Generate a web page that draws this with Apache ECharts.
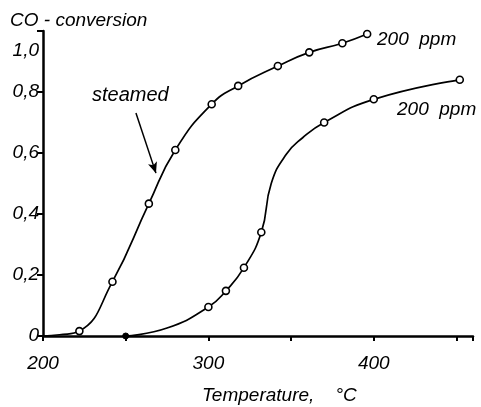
<!DOCTYPE html>
<html>
<head>
<meta charset="utf-8">
<script src="https://cdn.jsdelivr.net/npm/echarts@6/dist/echarts.min.js"></script>
<style>html,body{margin:0;padding:0;background:#fff}#c{width:481px;height:407px}</style>
</head>
<body>
<div id="c"></div>
<script>
// Upper curve ("steamed", 200 ppm): marked points
const steamedMarked = [[222,0.016],[242,0.178],[264,0.434],[280,0.61],[302,0.76],[318,0.82],[342,0.885],[361,0.93],[381,0.96],[396,0.99]];
// extra unmarked points along the hand-drawn curve
const steamedGuide = [[200,0],[210,0.004]];
// Lower curve (200 ppm)
const lowerMarked = [[300,0.095],[310.6,0.148],[321.5,0.224],[332,0.34],[370,0.70],[400,0.776],[452,0.84]];
const lowerFilled = [[250,0]];
const lowerGuide = [[275,0.026],[338,0.50],[347,0.595],[357,0.65]];
// arrow pointing to the steamed curve (data coords)
const arrowFrom = [256.2,0.731];
const arrowTo = [268.3,0.534];
const xTickLabels = [200,300,400];
const yTickLabels = [0,0.2,0.4,0.6,0.8,1.0];

const FONT = 'Liberation Sans';
const byX = (a,b)=>a[0]-b[0];
const steamedLine = steamedGuide.concat(steamedMarked).sort(byX);
const lowerLine = lowerFilled.concat(lowerGuide, lowerMarked).sort(byX);

const chart = echarts.init(document.getElementById('c'), null, {renderer:'canvas'});
const txt = {fontFamily: FONT, fontStyle: 'italic', fontSize: 19, fill: '#000'};
chart.setOption({
  backgroundColor: '#fff',
  animation: false,
  grid: {left: 43, right: 8, top: 31, bottom: 71, containLabel: false},
  xAxis: {
    type: 'value', min: 200, max: 460, interval: 50,
    axisLine: {show: true, onZero: false, lineStyle: {color: '#000', width: 2.5}},
    axisTick: {show: true, length: 5, inside: false, lineStyle: {color: '#000', width: 2}},
    splitLine: {show: false},
    axisLabel: {
      margin: 18, fontFamily: FONT, fontStyle: 'italic', fontSize: 19, color: '#000',
      formatter: v => xTickLabels.indexOf(v) >= 0 ? String(v) : ''
    }
  },
  yAxis: {
    type: 'value', min: 0, max: 1.0, interval: 0.2,
    axisLine: {show: true, lineStyle: {color: '#000', width: 2.5}},
    axisTick: {show: true, length: 6, lineStyle: {color: '#000', width: 2}},
    splitLine: {show: false},
    axisLabel: {
      margin: 4, fontFamily: FONT, fontStyle: 'italic', fontSize: 19, color: '#000',
      formatter: v => {
        const m = yTickLabels.find(t => Math.abs(t - v) < 1e-6);
        if (m === undefined) return '';
        const s = m === 0 ? '0' : m.toFixed(1).replace('.', ',');
        return Math.abs(m - 1) < 1e-6 ? '{b|' + s + '}' : s;
      },
      rich: {b: {fontFamily: FONT, fontStyle: 'italic', fontSize: 19, color: '#000', padding: [40,0,0,0]}}
    }
  },
  series: [
    {type: 'line', data: steamedLine, smooth: 0.5, showSymbol: false, symbol: 'none',
     lineStyle: {color: '#000', width: 1.7}, z: 2,
     markLine: {silent: true, symbol: ['none', 'arrow'], symbolSize: [7, 11], label: {show: false},
       lineStyle: {color: '#000', width: 1.5, type: 'solid'},
       data: [[{coord: arrowFrom}, {coord: arrowTo}]]}},
    {type: 'line', data: lowerLine, smooth: 0.5, showSymbol: false, symbol: 'none',
     lineStyle: {color: '#000', width: 1.7}, z: 2},
    {type: 'scatter', data: steamedMarked.concat(lowerMarked), symbol: 'circle', symbolSize: 7,
     itemStyle: {color: '#fff', borderColor: '#000', borderWidth: 1.6, opacity: 1}, z: 3},
    {type: 'scatter', data: lowerFilled, symbol: 'circle', symbolSize: 6,
     itemStyle: {color: '#000', borderColor: '#000', borderWidth: 1, opacity: 1}, z: 3}
  ],
  graphic: [
    {type: 'text', left: 10, top: 11, style: Object.assign({text: 'CO - conversion'}, txt)},
    {type: 'text', left: 92, top: 85, style: Object.assign({text: 'steamed'}, txt, {fontSize: 20})},
    {type: 'text', left: 377, top: 30, style: Object.assign({text: '200  ppm'}, txt)},
    {type: 'text', left: 397, top: 100, style: Object.assign({text: '200  ppm'}, txt)},
    {type: 'text', left: 202, top: 386, style: Object.assign({text: 'Temperature,    \u00b0C'}, txt)}
  ]
});
</script>
</body>
</html>
